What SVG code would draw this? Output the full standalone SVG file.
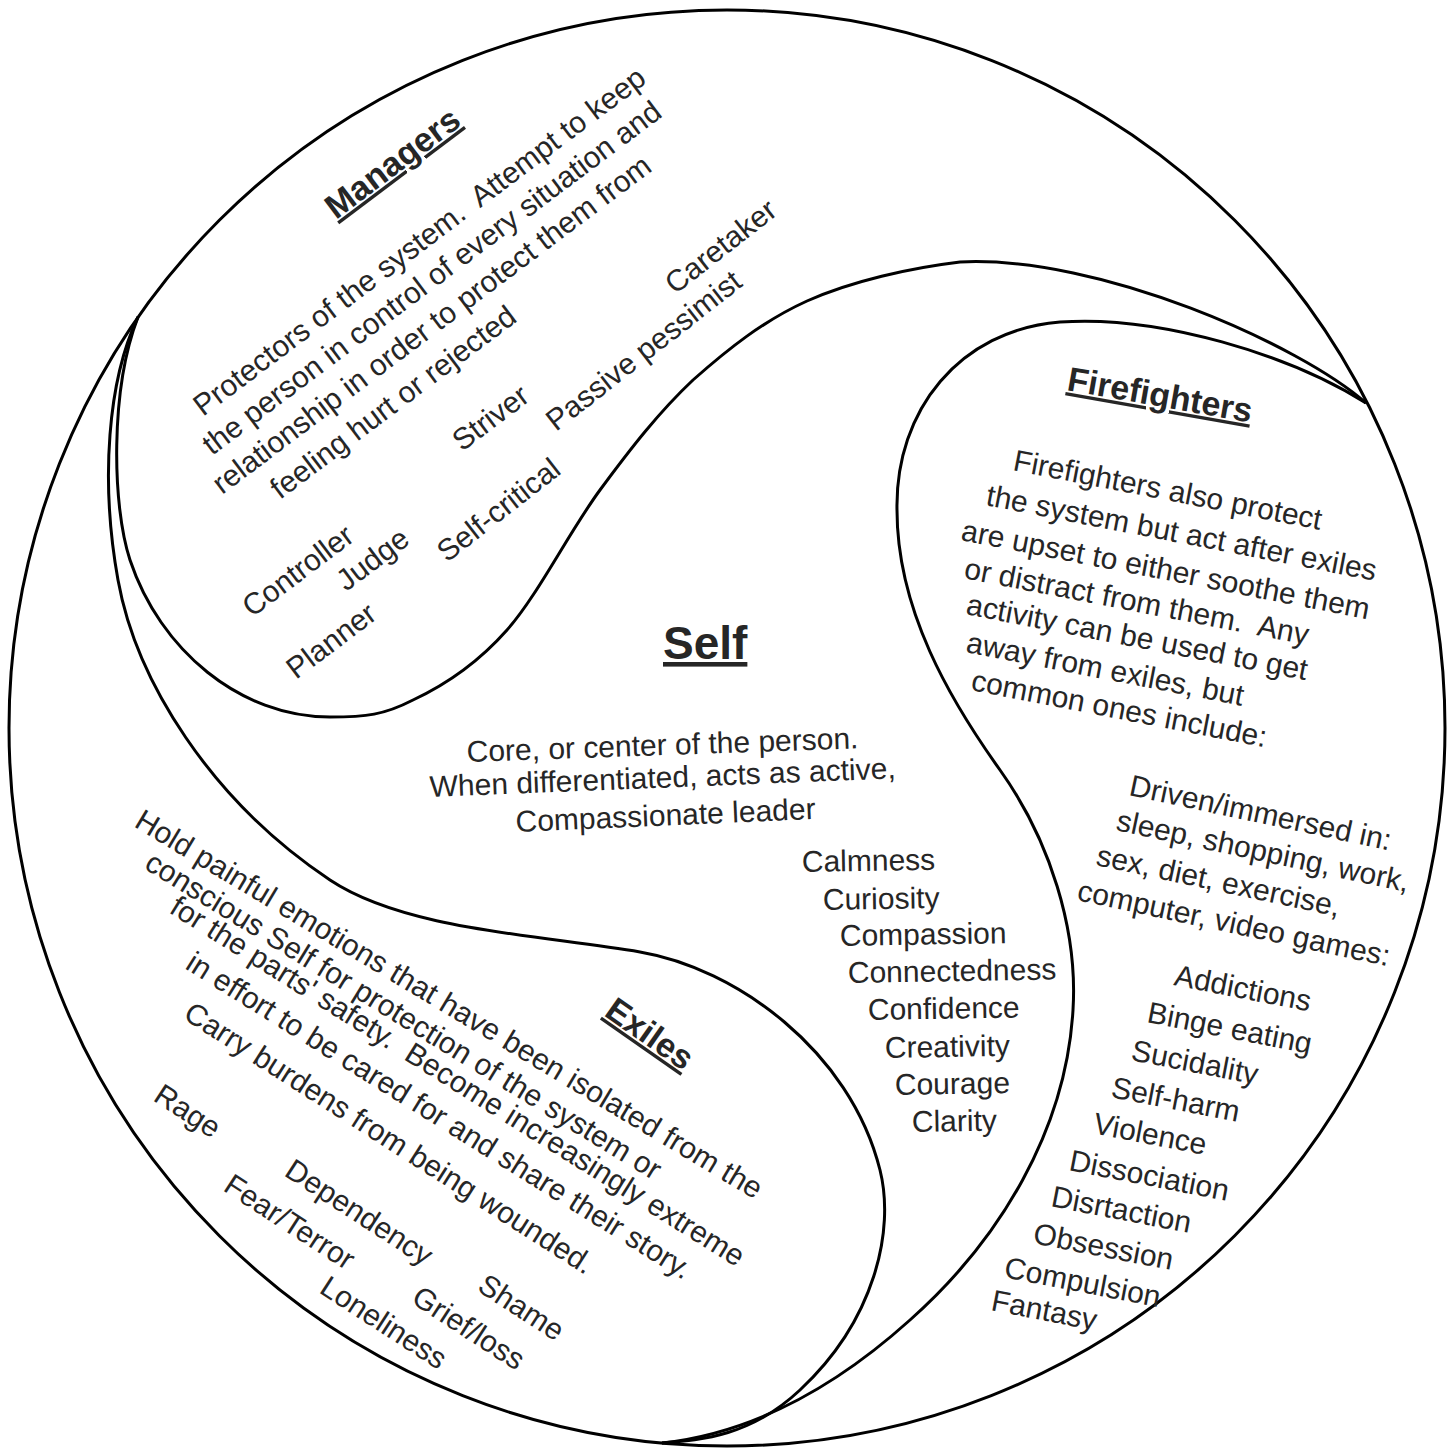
<svg xmlns="http://www.w3.org/2000/svg" width="1453" height="1449" viewBox="0 0 1453 1449" xml:space="preserve">
<style>
.t{font-family:"Liberation Sans",Arial,Helvetica,sans-serif;font-size:30px;fill:#262626;white-space:pre;}
.h{font-weight:bold;font-size:34px;text-decoration:underline;}
.s{font-weight:bold;font-size:46px;text-decoration:underline;}
.ln{fill:none;stroke:#000;stroke-width:3;stroke-linejoin:round;}
</style>
<rect width="1453" height="1449" fill="#fff"/>
<g id="outlines">
<circle class="ln" cx="727" cy="728" r="718"/>
<path class="ln" d="M1366,403 C1300,345 1100,255 960,262 C910,268 852,281 807,301 C763,321 728,349 693,380 C659,412 631,448 600,490 C569,532 538,595 507,630 C476,665 443,686 413,700 C384,715 366,717 330,717 C240,717 160,650 130,560 C112,505 110,390 138,317"/>
<path class="ln" d="M138,317 C108,380 100,480 118,580 C136,680 210,800 330,880 C405,930 540,935 640,952 C735,968 850,1050 880,1170 C895,1230 875,1320 800,1390 C750,1437 700,1440 662,1443"/>
<path class="ln" d="M1366,403 C1290,355 1160,315 1060,322 C960,330 895,410 897,510 C897,610 950,700 1000,770 C1050,840 1078,930 1073,1010 C1066,1130 1000,1240 910,1320 C870,1356 780,1430 662,1443"/>
</g>
<g id="managers">
<text class="t h" transform="translate(336,220) rotate(-37)">Managers</text>
<text class="t" transform="translate(203,417) rotate(-37)">Protectors of the system.  Attempt to keep</text>
<text class="t" transform="translate(212,456) rotate(-37)">the person in control of every situation and</text>
<text class="t" transform="translate(222,495) rotate(-37)">relationship in order to protect them from</text>
<text class="t" transform="translate(280,500) rotate(-37)">feeling hurt or rejected</text>
<text class="t" transform="translate(675,295) rotate(-38)">Caretaker</text>
<text class="t" transform="translate(556,432) rotate(-38)">Passive pessimist</text>
<text class="t" transform="translate(462,452) rotate(-37)">Striver</text>
<text class="t" transform="translate(447,563) rotate(-38)">Self-critical</text>
<text class="t" transform="translate(252,618) rotate(-37)">Controller</text>
<text class="t" transform="translate(346,592) rotate(-37)">Judge</text>
<text class="t" transform="translate(296,680) rotate(-37)">Planner</text>
</g>
<g id="self">
<text class="t s" x="663" y="659">Self</text>
<text class="t" transform="translate(467,762) rotate(-2)">Core, or center of the person.</text>
<text class="t" transform="translate(430,797) rotate(-2.3)">When differentiated, acts as active,</text>
<text class="t" transform="translate(516,832) rotate(-2.5)">Compassionate leader</text>
<text class="t" transform="translate(802,872) rotate(-1)">Calmness</text>
<text class="t" transform="translate(823,910) rotate(-1)">Curiosity</text>
<text class="t" transform="translate(840,946) rotate(-1)">Compassion</text>
<text class="t" transform="translate(848,983) rotate(-1)">Connectedness</text>
<text class="t" transform="translate(868,1020) rotate(-1)">Confidence</text>
<text class="t" transform="translate(885,1058) rotate(-1)">Creativity</text>
<text class="t" transform="translate(895,1095) rotate(-1)">Courage</text>
<text class="t" transform="translate(912,1132) rotate(-1)">Clarity</text>
</g>
<g id="firefighters">
<text class="t h" transform="translate(1066,390) rotate(10)">Firefighters</text>
<text class="t" transform="translate(1012,470) rotate(11)">Firefighters also protect</text>
<text class="t" transform="translate(985,505) rotate(11)">the system but act after exiles</text>
<text class="t" transform="translate(960,540) rotate(11)">are upset to either soothe them</text>
<text class="t" transform="translate(963,578) rotate(11)">or distract from them.  Any</text>
<text class="t" transform="translate(965,614) rotate(11)">activity can be used to get</text>
<text class="t" transform="translate(965,652) rotate(11)">away from exiles, but</text>
<text class="t" transform="translate(970,690) rotate(11)">common ones include:</text>
<text class="t" transform="translate(1128,795) rotate(12)">Driven/immersed in:</text>
<text class="t" transform="translate(1115,830) rotate(12)">sleep, shopping, work,</text>
<text class="t" transform="translate(1095,865) rotate(12)">sex, diet, exercise,</text>
<text class="t" transform="translate(1076,900) rotate(12)">computer, video games:</text>
<text class="t" transform="translate(1173,985) rotate(11)">Addictions</text>
<text class="t" transform="translate(1146,1022) rotate(11)">Binge eating</text>
<text class="t" transform="translate(1130,1060) rotate(11)">Sucidality</text>
<text class="t" transform="translate(1110,1097) rotate(11)">Self-harm</text>
<text class="t" transform="translate(1092,1133) rotate(11)">Violence</text>
<text class="t" transform="translate(1068,1170) rotate(11)">Dissociation</text>
<text class="t" transform="translate(1050,1206) rotate(11)">Disrtaction</text>
<text class="t" transform="translate(1032,1243) rotate(11)">Obsession</text>
<text class="t" transform="translate(1003,1277) rotate(11)">Compulsion</text>
<text class="t" transform="translate(990,1310) rotate(11)">Fantasy</text>
</g>
<g id="exiles">
<text class="t h" transform="translate(603,1015) rotate(35)">Exiles</text>
<text class="t" transform="translate(133,826) rotate(31)">Hold painful emotions that have been isolated from the</text>
<text class="t" transform="translate(143,868) rotate(31.5)">conscious Self for protection of the system or</text>
<text class="t" transform="translate(168,912) rotate(32)">for the parts' safety.  Become increasingly extreme</text>
<text class="t" transform="translate(184,968) rotate(32)">in effort to be cared for and share their story.</text>
<text class="t" transform="translate(182,1018) rotate(32.5)">Carry burdens from being wounded.</text>
<text class="t" transform="translate(152,1100) rotate(33)">Rage</text>
<text class="t" transform="translate(283,1175) rotate(33)">Dependency</text>
<text class="t" transform="translate(222,1190) rotate(33)">Fear/Terror</text>
<text class="t" transform="translate(476,1290) rotate(33)">Shame</text>
<text class="t" transform="translate(410,1302) rotate(33)">Grief/loss</text>
<text class="t" transform="translate(318,1292) rotate(33)">Loneliness</text>
</g>
</svg>
